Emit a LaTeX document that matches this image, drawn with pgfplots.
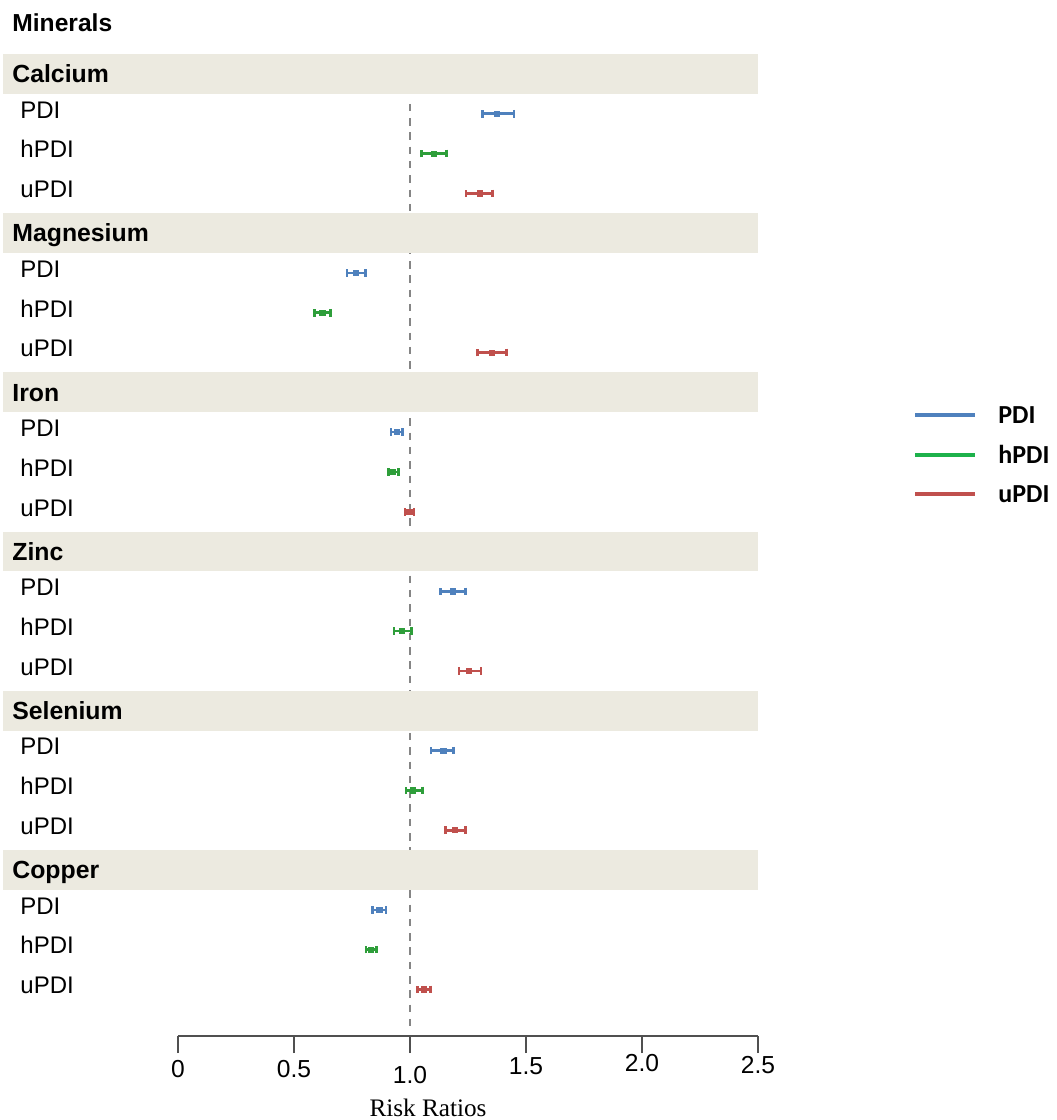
\documentclass[border=0pt]{standalone}
\usepackage{pgfplots}
\usepackage{pgfplotstable}
\pgfplotsset{compat=1.18}
\usepackage{fontspec}
\setmainfont{Liberation Sans}
\newfontfamily\seriffont{Liberation Serif}
\newfontfamily\legfont{Carlito}
\definecolor{cblue}{HTML}{4F81BD}
\definecolor{cgreen}{HTML}{2E9E3A}
\definecolor{cred}{HTML}{C0504D}
\definecolor{lgreen}{HTML}{1DB14B}
\definecolor{band}{HTML}{ECEAE0}
\definecolor{axgray}{HTML}{505050}
\definecolor{dashgray}{HTML}{858585}

% PDI: estimate, lower, upper
\pgfplotstableread{
x y lo hi
1.374 -1 1.313 1.449
0.767 -5 0.728 0.807
0.943 -9 0.918 0.968
1.184 -13 1.131 1.238
1.144 -17 1.091 1.188
0.868 -21 0.839 0.897
}\pdidata
\pgfplotstableread{
x y lo hi
1.103 -2 1.050 1.158
0.622 -6 0.588 0.658
0.928 -10 0.907 0.950
0.964 -14 0.931 1.006
1.014 -18 0.983 1.055
0.832 -22 0.810 0.856
}\hpdidata
\pgfplotstableread{
x y lo hi
1.303 -3 1.241 1.356
1.353 -7 1.290 1.417
0.997 -11 0.978 1.017
1.254 -15 1.211 1.306
1.194 -19 1.152 1.238
1.060 -23 1.032 1.089
}\upididata

\pgfplotsset{
  ci/.style={only marks, mark=square*, mark size=1.3pt, #1,
    mark options={#1},
    error bars/.cd, x dir=both, x explicit, error mark=|,
    error bar style={line width=1.3pt, #1},
    error mark options={line width=1.3pt, mark size=1.9pt, #1}},
}

\begin{document}
\begin{tikzpicture}
\path[use as bounding box] (0pt,0pt) rectangle (528pt,560pt);
\begin{axis}[
  at={(89pt,42pt)}, anchor=south west,
  scale only axis, width=290pt, height=491pt,
  xmin=0, xmax=2.5, ymin=-24.17, ymax=0.5,
  axis x line=bottom, axis y line=none,
  axis line style={-, axgray, line width=0.6pt},
  clip=false,
  xtick={0,0.5,1,1.5,2,2.5},
  xticklabels={0,0.5,\raisebox{-3pt}{1.0},\raisebox{1.5pt}{1.5},\raisebox{3pt}{2.0},\raisebox{2pt}{2.5}},
  tick align=outside, major tick length=8.5pt,
  tick style={axgray, line width=0.6pt},
  xticklabel style={font=\fontsize{12.3}{14}\selectfont, anchor=base, yshift=-12pt},
  /pgf/number format/assume math mode=true,
]
% reference line
\draw[dashgray, line width=1pt, dash pattern=on 3.75pt off 3.4pt] (axis cs:1,-0.75) -- (axis cs:1,-24.0);
% header bands
\pgfplotsinvokeforeach{0,4,8,12,16,20}{
  \fill[band] (axis cs:-0.754,{-#1+0.5}) rectangle (axis cs:2.5,{-#1-0.5});
}
% title
\node[anchor=base west, inner sep=0pt, font=\bfseries\fontsize{12.3}{14}\selectfont] at (axis cs:-0.7155,1.063) {Minerals};
% headers
\node[anchor=base west, inner sep=0pt, font=\bfseries\fontsize{12.4}{14}\selectfont] at (axis cs:-0.7155,-0.22) {Calcium};
\node[anchor=base west, inner sep=0pt, font=\bfseries\fontsize{12.4}{14}\selectfont] at (axis cs:-0.7155,-4.22) {Magnesium};
\node[anchor=base west, inner sep=0pt, font=\bfseries\fontsize{12.4}{14}\selectfont] at (axis cs:-0.7155,-8.22) {Iron};
\node[anchor=base west, inner sep=0pt, font=\bfseries\fontsize{12.4}{14}\selectfont] at (axis cs:-0.7155,-12.22) {Zinc};
\node[anchor=base west, inner sep=0pt, font=\bfseries\fontsize{12.4}{14}\selectfont] at (axis cs:-0.7155,-16.22) {Selenium};
\node[anchor=base west, inner sep=0pt, font=\bfseries\fontsize{12.4}{14}\selectfont] at (axis cs:-0.7155,-20.22) {Copper};
% row labels
\pgfplotsinvokeforeach{0,4,8,12,16,20}{
  \node[anchor=base west, inner sep=0pt, font=\fontsize{12}{14}\selectfont] at (axis cs:-0.681,{-#1-1.11}) {PDI};
  \node[anchor=base west, inner sep=0pt, font=\fontsize{12}{14}\selectfont] at (axis cs:-0.681,{-#1-2.11}) {hPDI};
  \node[anchor=base west, inner sep=0pt, font=\fontsize{12}{14}\selectfont] at (axis cs:-0.681,{-#1-3.11}) {uPDI};
}
% data
\addplot[ci=cblue] table[x=x, y=y, x error plus expr=\thisrow{hi}-\thisrow{x}, x error minus expr=\thisrow{x}-\thisrow{lo}] {\pdidata};
\addplot[ci=cgreen] table[x=x, y=y, x error plus expr=\thisrow{hi}-\thisrow{x}, x error minus expr=\thisrow{x}-\thisrow{lo}] {\hpdidata};
\addplot[ci=cred] table[x=x, y=y, x error plus expr=\thisrow{hi}-\thisrow{x}, x error minus expr=\thisrow{x}-\thisrow{lo}] {\upididata};
\end{axis}
% x label
\node[anchor=base, inner sep=0pt, font=\seriffont\fontsize{12.6}{14}\selectfont] at (214pt,1.8pt) {Risk Ratios};
% legend
\draw[cblue, line width=2.4pt] (457.5pt,352.5pt) -- (487.5pt,352.5pt);
\draw[lgreen, line width=2.4pt] (457.5pt,332.5pt) -- (487.5pt,332.5pt);
\draw[cred, line width=2.4pt] (457.5pt,313pt) -- (487.5pt,313pt);
\node[anchor=base west, inner sep=0pt, font=\legfont\bfseries\fontsize{13}{15}\selectfont] at (499pt,348.3pt) {PDI};
\node[anchor=base west, inner sep=0pt, font=\legfont\bfseries\fontsize{13}{15}\selectfont] at (499pt,328.3pt) {hPDI};
\node[anchor=base west, inner sep=0pt, font=\legfont\bfseries\fontsize{13}{15}\selectfont] at (499pt,308.8pt) {uPDI};
\end{tikzpicture}
\end{document}
